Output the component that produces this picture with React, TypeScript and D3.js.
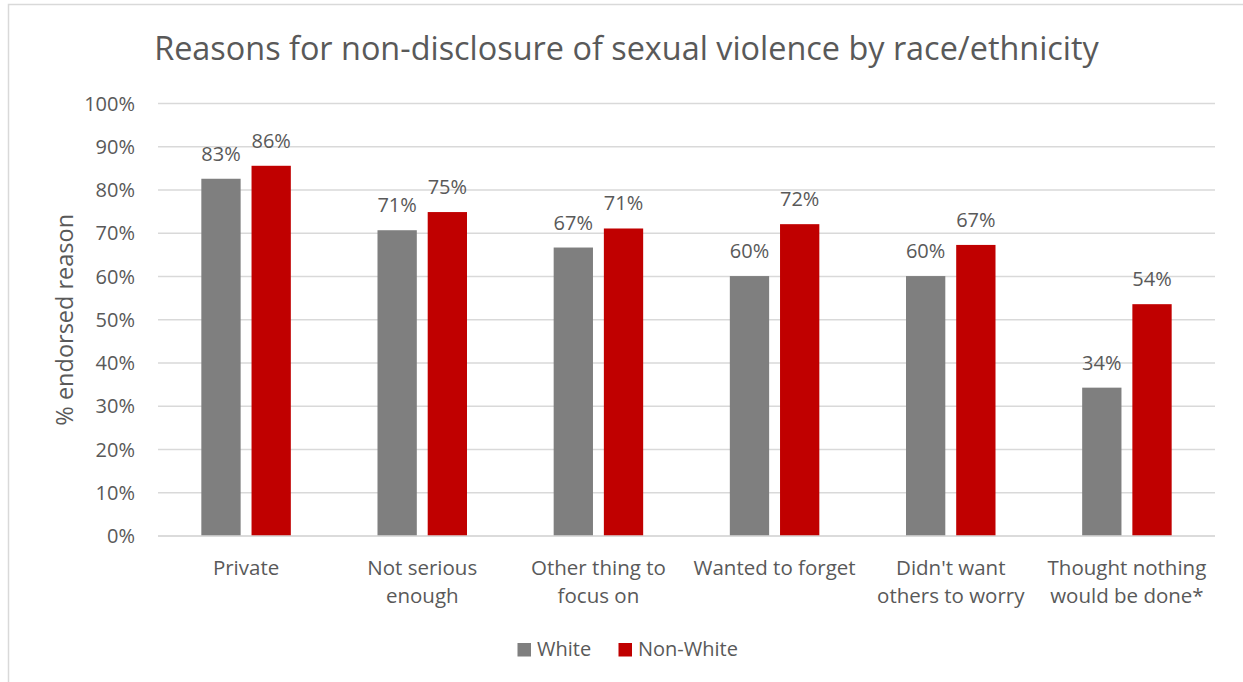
import React from "react";
import * as d3 from "d3";

const categories: string[][] = [
  ["Private"],
  ["Not serious", "enough"],
  ["Other thing to", "focus on"],
  ["Wanted to forget"],
  ["Didn't want", "others to worry"],
  ["Thought nothing", "would be done*"],
];
const seriesNames = ["White", "Non-White"];
const whiteValues = [82.6, 70.7, 66.7, 60.1, 60.1, 34.3];
const nonWhiteValues = [85.6, 74.9, 71.1, 72.1, 67.3, 53.6];
const whiteLabels = ["83%", "71%", "67%", "60%", "60%", "34%"];
const nonWhiteLabels = ["86%", "75%", "71%", "72%", "67%", "54%"];
const yTicks = [0, 10, 20, 30, 40, 50, 60, 70, 80, 90, 100];
const colors = ["#7f7f7f", "#c00000"];

const W = 1243;
const H = 682;
const FONT = "'Open Sans', sans-serif";
const TXT = "#595959";

export default function App() {
  const left = 158;
  const right = 1215;
  const top = 103.5;
  const bottom = 536;

  const keys = categories.map((c) => c.join(" "));
  const x0 = d3.scaleBand<string>().domain(keys).range([left, right]).paddingInner(0).paddingOuter(0);
  const groupW = 89.5;
  const bw = x0.bandwidth();
  const x1 = d3
    .scaleBand<string>()
    .domain(seriesNames)
    .range([(bw - groupW) / 2, (bw + groupW) / 2])
    .paddingInner(0.217)
    .paddingOuter(0);
  const y = d3.scaleLinear().domain([0, 100]).range([bottom, top]);

  const series = [
    { name: seriesNames[0], values: whiteValues, labels: whiteLabels, color: colors[0] },
    { name: seriesNames[1], values: nonWhiteValues, labels: nonWhiteLabels, color: colors[1] },
  ];

  return (
    <svg
      width={W}
      height={H}
      style={{ position: "absolute", left: 0, top: 0, background: "#fff" }}
      fontFamily={FONT}
    >
      <rect x={8.5} y={4.5} width={W + 20} height={H + 20} fill="#fff" stroke="#d9d9d9" strokeWidth={1.5} />
      <text x={626.5} y={60} textAnchor="middle" fontSize={32.4} fill={TXT}>
        Reasons for non-disclosure of sexual violence by race/ethnicity
      </text>
      {yTicks.map((t) => (
        <g key={t}>
          <line x1={left} x2={right} y1={y(t)} y2={y(t)} stroke="#d9d9d9" strokeWidth={1.5} />
          <text x={135} y={y(t)} dy="0.36em" textAnchor="end" fontSize={20} fill={TXT}>
            {t}%
          </text>
        </g>
      ))}
      <text
        transform={`translate(73,${(top + bottom) / 2}) rotate(-90)`}
        textAnchor="middle"
        fontSize={23.5}
        fill={TXT}
      >
        % endorsed reason
      </text>
      {series.map((s) =>
        keys.map((k, i) => {
          const bx = (x0(k) as number) + (x1(s.name) as number);
          const by = y(s.values[i]);
          return (
            <g key={s.name + k}>
              <rect x={bx} y={by} width={x1.bandwidth()} height={bottom - by} fill={s.color} />
              <text x={bx + x1.bandwidth() / 2} y={by - 18} textAnchor="middle" fontSize={20} fill={TXT}>
                {s.labels[i]}
              </text>
            </g>
          );
        })
      )}
      <line x1={left} x2={right} y1={bottom} y2={bottom} stroke="#d9d9d9" strokeWidth={1.5} />
      {categories.map((lines, i) => (
        <text key={i} x={(x0(keys[i]) as number) + bw / 2} textAnchor="middle" fontSize={20.5} fill={TXT}>
          {lines.map((ln, j) => (
            <tspan key={j} x={(x0(keys[i]) as number) + bw / 2} y={575 + j * 28}>
              {ln}
            </tspan>
          ))}
        </text>
      ))}
      <g>
        <rect x={517.5} y={643} width={13.5} height={13.5} fill={colors[0]} />
        <text x={537} y={655.5} fontSize={20} fill={TXT}>
          {seriesNames[0]}
        </text>
        <rect x={618.5} y={643} width={13.5} height={13.5} fill={colors[1]} />
        <text x={638} y={655.5} fontSize={20} fill={TXT}>
          {seriesNames[1]}
        </text>
      </g>
    </svg>
  );
}
